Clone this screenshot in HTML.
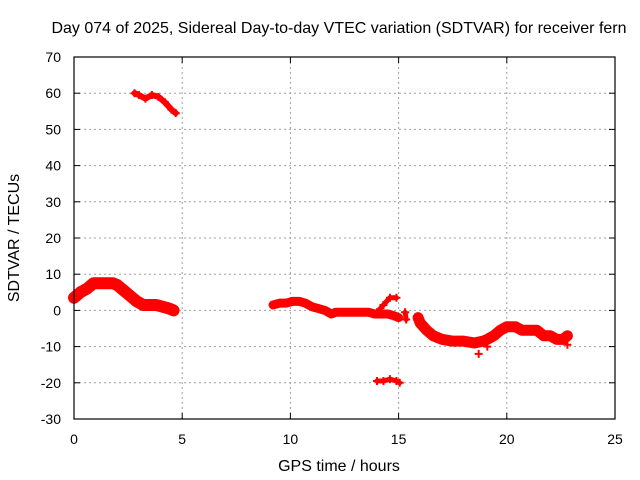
<!DOCTYPE html>
<html><head><meta charset="utf-8"><style>
body{margin:0;background:#fff}
svg{display:block;font-family:"Liberation Sans",sans-serif}
</style></head><body>
<svg id="c" width="640" height="480" viewBox="0 0 640 480">
<text x="339" y="33" text-anchor="middle" font-size="16">Day 074 of 2025, Sidereal Day-to-day VTEC variation (SDTVAR) for receiver fern</text>
<text x="339" y="471" text-anchor="middle" font-size="16">GPS time / hours</text>
<text transform="translate(19,238) rotate(-90)" text-anchor="middle" font-size="16">SDTVAR / TECUs</text>
<g id="grid"></g><g id="marks"></g><g id="axes"></g>
</svg>
<script>
const xTicks=[0,5,10,15,20,25];
const yTicks=[-30,-20,-10,0,10,20,30,40,50,60,70];
const seg1T=[0,0.3,0.6,0.9,1.2,1.5,1.8,2.0,2.3,2.6,2.9,3.2,3.5,3.8,4.1,4.4,4.6];
const seg1V=[3.5,5,6,7.5,7.5,7.5,7.5,7,5.5,4,2.5,1.5,1.5,1.5,1,0.5,0];
const seg2T=[2.8,3.0,3.3,3.6,3.9,4.2,4.5,4.7];
const seg2V=[60,59.5,58.5,59.5,59,57.5,55.5,54.5];
const seg3T=[9.2,9.5,9.8,10.1,10.4,10.7,11.0,11.3,11.6,11.9,12.1,12.4,12.7,13.0,13.3,13.6,13.9,14.2,14.5,14.8,15.0];
const seg3V=[1.5,2,2,2.5,2.5,2,1,0.5,0,-1,-0.5,-0.5,-0.5,-0.5,-0.5,-0.5,-1,-1,-1,-1.5,-2];
const seg4T=[14.0,14.3,14.6,14.9];
const seg4V=[-0.5,1.5,3.5,3.5];
const seg5T=[15.3,15.35];
const seg5V=[-0.5,-2.5];
const seg6T=[14.0,14.3,14.6,14.9,15.05];
const seg6V=[-19.5,-19.5,-19,-19.5,-20];
const seg7T=[15.9,16.0,16.3,16.6,17.0,17.5,18.0,18.5,18.9,19.1,19.4,19.7,20.0,20.4,20.7,21.0,21.4,21.7,22.0,22.3,22.6,22.8];
const seg7V=[-2,-3.5,-5.5,-7,-8,-8.5,-8.5,-9,-8.5,-8,-7,-5.5,-4.5,-4.5,-5.5,-5.5,-5.5,-7,-7,-8,-8,-7];
const extraT=[18.7,19.1,22.8];
const extraV=[-12,-10,-9.5];
const L=74,R=615,T=57,B=419;
const xs=t=>L+(t-0)/25*(R-L);
const ys=v=>B-(v+30)/100*(B-T);
const NS='http://www.w3.org/2000/svg';
function mk(tag,attrs,parent){const e=document.createElementNS(NS,tag);for(const k in attrs)e.setAttribute(k,attrs[k]);parent.appendChild(e);return e;}
const grid=document.getElementById('grid'),axes=document.getElementById('axes'),marks=document.getElementById('marks');
xTicks.forEach(t=>{
 if(t>0&&t<25){const g=mk('line',{x1:xs(t),x2:xs(t),y1:T,y2:B,stroke:'#a0a0a0','stroke-dasharray':'2,3'},grid);
 
 }
 mk('line',{x1:xs(t),x2:xs(t),y1:B,y2:B-6,stroke:'#000'},axes);
 mk('line',{x1:xs(t),x2:xs(t),y1:T,y2:T+6,stroke:'#000'},axes);
 const l=mk('text',{x:xs(t),y:B+25,'text-anchor':'middle','font-size':14},axes);l.textContent=t;
 
 
});
yTicks.forEach(v=>{
 if(v>-30&&v<70){const g=mk('line',{x1:L,x2:R,y1:ys(v),y2:ys(v),stroke:'#a0a0a0','stroke-dasharray':'2,3'},grid);
 
 }
 mk('line',{x1:L,x2:L+6,y1:ys(v),y2:ys(v),stroke:'#000'},axes);
 mk('line',{x1:R,x2:R-6,y1:ys(v),y2:ys(v),stroke:'#000'},axes);
 const l=mk('text',{x:L-13,y:ys(v)+5,'text-anchor':'end','font-size':14},axes);l.textContent=v;
 
 
});
const fr=mk('rect',{x:L,y:T,width:R-L,height:B-T,fill:'none',stroke:'#000','stroke-width':1.2},axes);


function points(ts,vs){
 ts.forEach((t,i)=>{const x=xs(t),y=ys(vs[i]);
  const m=mk('path',{d:`M${x-4},${y}h8M${x},${y-4}v8`,stroke:'#f00','stroke-width':2},marks);
  
  });
}
function series(ts,vs,w){
 const p=mk('polyline',{points:ts.map((t,i)=>xs(t)+','+ys(vs[i])).join(' '),fill:'none',stroke:'#f00','stroke-width':w,'stroke-linejoin':'round','stroke-linecap':'round'},marks);
 
 
 points(ts,vs);
}
series(seg1T,seg1V,12);series(seg2T,seg2V,6);series(seg3T,seg3V,9);series(seg4T,seg4V,5);
series(seg5T,seg5V,5);series(seg6T,seg6V,5);series(seg7T,seg7V,11);points(extraT,extraV);
</script>
</body></html>
